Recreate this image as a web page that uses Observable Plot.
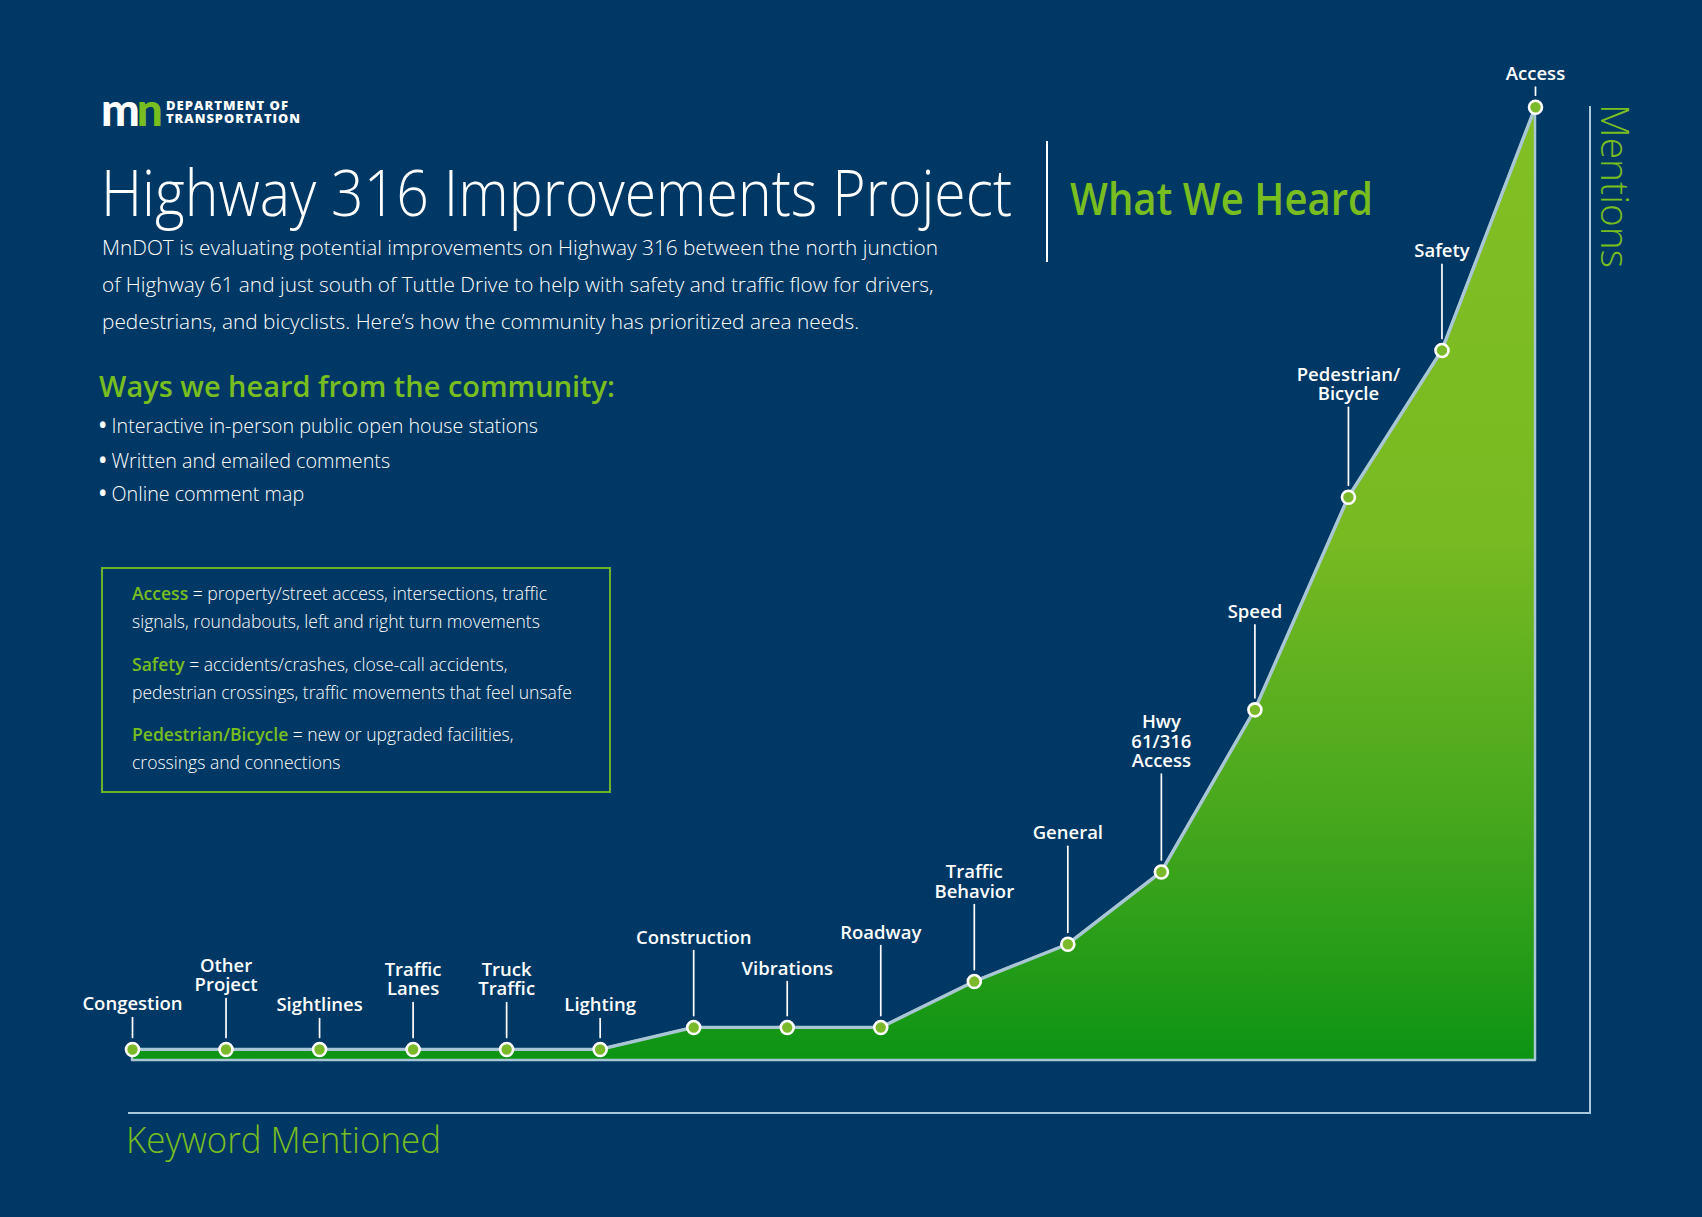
<!DOCTYPE html>
<html>
<head>
<meta charset="utf-8">
<script src="https://cdn.jsdelivr.net/npm/d3@7"></script>
<script src="https://cdn.jsdelivr.net/npm/@observablehq/plot@0.6"></script>
<style>
  html, body { margin: 0; padding: 0; background: #003865; }
  #page { position: relative; width: 1702px; height: 1217px; overflow: hidden; background: #003865;
          font-family: "Open Sans", Lato, "Noto Sans", sans-serif; color: #fff; }
  .abs { position: absolute; white-space: nowrap; line-height: 1; transform-origin: 0 0; }
  .body { font-weight: 300; }
  .bul { font-weight: 700; }
  .green { color: #78be20; }
  #chart { position: absolute; left: 0; top: 0; width: 1702px; height: 1217px; }
  #chart svg { max-width: none !important; display: block; }
  #frame { position: absolute; left: 128px; top: 106px; width: 1461px; height: 1006px;
           border-right: 2.5px solid #a9c8dc; border-bottom: 2.5px solid #a9c8dc; }
  #box { position: absolute; left: 101px; top: 567px; width: 506px; height: 222px; border: 2px solid #6cb22a; }
</style>
</head>
<body>
<div id="page">
  <div id="frame"></div>
  <div id="box"></div>

  <!-- logo -->
  <div class="abs" id="logo" style="left:101px; top:86px; font-family:Lato,'Open Sans',sans-serif; font-weight:900; font-size:46px; letter-spacing:-3px;"><span>m</span><span class="green">n</span></div>
  <div class="abs fit" data-w="123" style="left:166px; top:99px; font-weight:800; font-size:13px; letter-spacing:1px; line-height:12px;">DEPARTMENT OF</div>
  <div class="abs fit" data-w="135" style="left:166px; top:112px; font-weight:800; font-size:13px; letter-spacing:1px; line-height:12px;">TRANSPORTATION</div>

  <div class="abs fit" data-w="911" id="title" style="left:101px; top:160px; font-weight:300; font-size:64px;">Highway 316 Improvements Project</div>
  <div class="abs" style="left:1046px; top:141px; width:1.5px; height:121px; background:#fff;"></div>
  <div class="abs green fit" data-w="303" style="left:1070px; top:175px; font-weight:600; font-size:45px;">What We Heard</div>

  <div class="abs body fitgroup" data-group="p" data-w="836" style="left:102px; top:237px; font-size:21px;">MnDOT is evaluating potential improvements on Highway 316 between the north junction</div>
  <div class="abs body fitgroup" data-group="p" style="left:102px; top:274px; font-size:21px;">of Highway 61 and just south of Tuttle Drive to help with safety and traffic flow for drivers,</div>
  <div class="abs body fitgroup" data-group="p" style="left:102px; top:311px; font-size:21px;">pedestrians, and bicyclists. Here’s how the community has prioritized area needs.</div>

  <div class="abs green fit" data-w="516" style="left:99px; top:371px; font-weight:600; font-size:29px;">Ways we heard from the community:</div>
  <div class="abs body fitgroup" data-group="b" data-w="439" style="left:99px; top:415px; font-size:20.5px;"><span class="bul">•</span> Interactive in-person public open house stations</div>
  <div class="abs body fitgroup" data-group="b" style="left:99px; top:450px; font-size:20.5px;"><span class="bul">•</span> Written and emailed comments</div>
  <div class="abs body fitgroup" data-group="b" style="left:99px; top:483px; font-size:20.5px;"><span class="bul">•</span> Online comment map</div>

  <div class="abs body fitgroup" data-group="k" data-w="415" style="left:132px; top:584px; font-size:18.5px;"><span class="green" style="font-weight:600">Access</span> = property/street access, intersections, traffic</div>
  <div class="abs body fitgroup" data-group="k" style="left:132px; top:612px; font-size:18.5px;">signals, roundabouts, left and right turn movements</div>
  <div class="abs body fitgroup" data-group="k" style="left:132px; top:655px; font-size:18.5px;"><span class="green" style="font-weight:600">Safety</span> = accidents/crashes, close-call accidents,</div>
  <div class="abs body fitgroup" data-group="k" style="left:132px; top:683px; font-size:18.5px;">pedestrian crossings, traffic movements that feel unsafe</div>
  <div class="abs body fitgroup" data-group="k" style="left:132px; top:725px; font-size:18.5px;"><span class="green" style="font-weight:600">Pedestrian/Bicycle</span> = new or upgraded facilities,</div>
  <div class="abs body fitgroup" data-group="k" style="left:132px; top:753px; font-size:18.5px;">crossings and connections</div>

  <div class="abs green fit" data-w="315" style="left:126px; top:1122px; font-weight:300; font-size:36px;">Keyword Mentioned</div>
  <div class="abs green" id="ylab" style="left:1636px; top:104px; font-weight:300; font-size:39px; transform: rotate(90deg); transform-origin:0 0;">Mentions</div>

  <div id="chart"></div>
</div>

<script>
// ---- data ----
const keywords = ["Congestion", "Other Project", "Sightlines", "Traffic Lanes", "Truck Traffic", "Lighting",
  "Construction", "Vibrations", "Roadway", "Traffic Behavior", "General", "Hwy 61/316 Access",
  "Speed", "Pedestrian/Bicycle", "Safety", "Access"];
const mentions = [1, 1, 1, 1, 1, 1, 2, 2, 2, 4.1, 5.8, 9.1, 16.5, 26.2, 32.9, 44];
const labelText = ["Congestion", "Other\nProject", "Sightlines", "Traffic\nLanes", "Truck\nTraffic", "Lighting",
  "Construction", "Vibrations", "Roadway", "Traffic\nBehavior", "General", "Hwy\n61/316\nAccess",
  "Speed", "Pedestrian/\nBicycle", "Safety", "Access"];
const yDomain = [0, 44];
const floorValue = 0.5;

const data = keywords.map((k, i) => ({keyword: k, mentions: mentions[i], label: labelText[i]}));

// ---- layout of the leader lines (pixels) ----
const leader = {"Congestion": 20, "Other Project": 39, "Sightlines": 19, "Traffic Lanes": 35, "Truck Traffic": 35,
  "Lighting": 19, "Construction": 65, "Vibrations": 34, "Roadway": 70, "Traffic Behavior": 65, "General": 86,
  "Hwy 61/316 Access": 86, "Speed": 73, "Pedestrian/Bicycle": 78, "Safety": 74, "Access": 8};
const gap = 12;
const textGap = 7;

const ns = "http://www.w3.org/2000/svg";
function gradientDefs() {
  const defs = document.createElementNS(ns, "defs");
  const lg = document.createElementNS(ns, "linearGradient");
  lg.setAttribute("id", "areaGrad");
  lg.setAttribute("x1", "0"); lg.setAttribute("y1", "0");
  lg.setAttribute("x2", "0"); lg.setAttribute("y2", "1");
  [[0, "#82bf24"], [0.45, "#78ba22"], [0.75, "#46a71d"], [1, "#0d9414"]].forEach(([o, c]) => {
    const s = document.createElementNS(ns, "stop");
    s.setAttribute("offset", o); s.setAttribute("stop-color", c);
    lg.appendChild(s);
  });
  defs.appendChild(lg);
  return defs;
}

const lineShape = { draw(context, l) { context.moveTo(0, 0); context.lineTo(0, -l); } };

const labelMarks = data.flatMap(d => [
  Plot.vector([d], {x: "keyword", y: "mentions", length: leader[d.keyword], rotate: 0, anchor: "start",
    dy: -gap, shape: lineShape, stroke: "#ffffff", strokeWidth: 1.7}),
  Plot.text([d], {x: "keyword", y: "mentions", text: "label", dy: -(gap + leader[d.keyword] + textGap),
    lineAnchor: "bottom", lineHeight: 1.05, fill: "#ffffff", fontSize: 18.5, fontWeight: 600,
    fontFamily: "'Open Sans', Lato, sans-serif"})
]);

const chart = Plot.plot({
  width: 1702,
  height: 1217,
  marginLeft: 132,
  marginRight: 167,
  marginTop: 106.7,
  marginBottom: 146.1,
  style: {background: "transparent", overflow: "visible"},
  x: {type: "point", domain: keywords, padding: 0, round: false, axis: null},
  y: {domain: yDomain, axis: null},
  marks: [
    gradientDefs,
    Plot.areaY(data, {x: "keyword", y1: floorValue, y2: "mentions", fill: "url(#areaGrad)",
      stroke: "#a9c6d4", strokeWidth: 2.5}),
    Plot.lineY(data, {x: "keyword", y: "mentions", stroke: "#a9c6d4", strokeWidth: 3}),
    ...labelMarks,
    Plot.dot(data, {x: "keyword", y: "mentions", r: 6.5, fill: "#7ab929", stroke: "#ffffff", strokeWidth: 2.6})
  ]
});
document.getElementById("chart").appendChild(chart);

// fit text widths to the reference
document.querySelectorAll(".fit").forEach(el => {
  const w = el.getBoundingClientRect().width;
  el.style.transform = `scaleX(${(+el.dataset.w / w).toFixed(4)})`;
});
const groups = {};
document.querySelectorAll(".fitgroup").forEach(el => {
  const g = el.dataset.group;
  if (el.dataset.w) groups[g] = +el.dataset.w / el.getBoundingClientRect().width;
});
document.querySelectorAll(".fitgroup").forEach(el => {
  el.style.transform = `scaleX(${groups[el.dataset.group].toFixed(4)})`;
});
</script>
</body>
</html>
